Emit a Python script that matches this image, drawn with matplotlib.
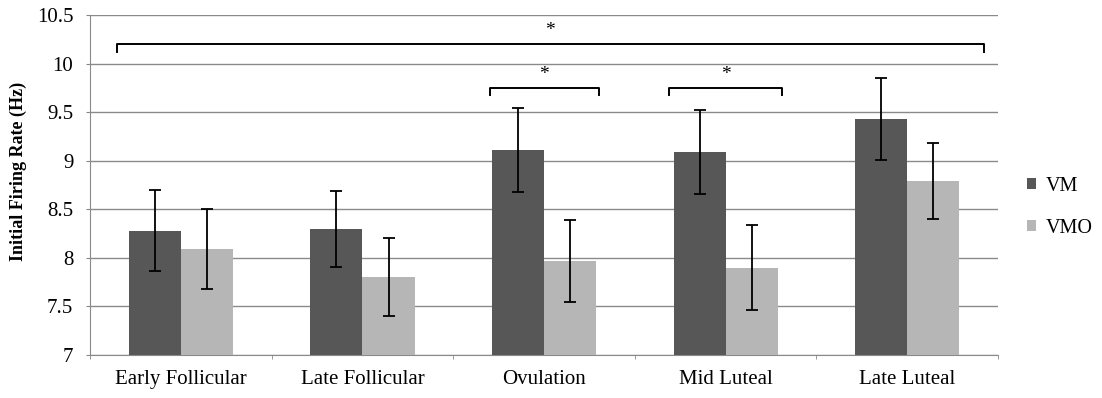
import matplotlib
matplotlib.use("Agg")
import matplotlib.pyplot as plt
import numpy as np

phases = ["Early Follicular", "Late Follicular", "Ovulation", "Mid Luteal", "Late Luteal"]
vm_mean = [8.28, 8.30, 9.11, 9.09, 9.43]
vm_err = [0.42, 0.39, 0.43, 0.43, 0.42]
vmo_mean = [8.09, 7.80, 7.97, 7.90, 8.79]
vmo_err = [0.41, 0.40, 0.42, 0.44, 0.39]
y_ticks = [7, 7.5, 8, 8.5, 9, 9.5, 10, 10.5]
y_tick_labels = ["7", "7.5", "8", "8.5", "9", "9.5", "10", "10.5"]

plt.rcParams["font.family"] = "serif"
plt.rcParams["font.serif"] = ["Liberation Serif", "DejaVu Serif"]

fig = plt.figure(figsize=(11.02, 3.98), dpi=100)
ax = fig.add_axes([0.0817, 0.108, 0.824, 0.854])

x = np.arange(len(phases))
w = 0.287
err_kw = dict(ecolor="black", elinewidth=1.3, capsize=4, capthick=1.3)
ax.bar(x - w / 2, np.array(vm_mean) - 7, w, bottom=7, color="#575757",
       yerr=vm_err, error_kw=err_kw, label="VM", zorder=3)
ax.bar(x + w / 2, np.array(vmo_mean) - 7, w, bottom=7, color="#b6b6b6",
       yerr=vmo_err, error_kw=err_kw, label="VMO", zorder=3)

ax.set_xlim(-0.5, 4.5)
ax.set_ylim(7, 10.5)
ax.set_yticks(y_ticks)
ax.set_yticklabels(y_tick_labels, fontsize=15)
ax.set_xticks(x)
ax.set_xticklabels(phases, fontsize=15)
ax.set_xticks(np.arange(-0.5, 5, 1), minor=True)
ax.tick_params(axis="x", which="major", length=0, pad=11)
ax.tick_params(axis="x", which="minor", length=3, color="#888888")
ax.tick_params(axis="y", length=3, color="#888888", pad=9)
ax.yaxis.grid(True, color="#8a8a8a", linewidth=1.0, zorder=0)
ax.set_axisbelow(True)
for s in ["top", "right"]:
    ax.spines[s].set_visible(False)
for s in ["left", "bottom"]:
    ax.spines[s].set_color("#8a8a8a")
ax.set_ylabel("Initial Firing Rate (Hz)", fontsize=13, fontweight="bold")
ax.yaxis.set_label_coords(-0.069, 0.541)

# significance brackets
def bracket(x0, x1, y, drop, star_y):
    ax.plot([x0, x0, x1, x1], [y - drop, y, y, y - drop], color="black",
            linewidth=1.4, zorder=4, clip_on=False)
    ax.text((x0 + x1) / 2, star_y, "*", ha="center", va="center", fontsize=14, zorder=4)

bracket(-0.35, 4.42, 10.20, 0.08, 10.34)
bracket(1.70, 2.30, 9.75, 0.07, 9.89)
bracket(2.69, 3.31, 9.75, 0.07, 9.89)

ax.legend(loc="center left", bbox_to_anchor=(1.012, 0.435), frameon=False, fontsize=14.5,
          handlelength=0.45, handleheight=0.45, handletextpad=0.5, labelspacing=1.15)

fig.savefig("out.png", dpi=100)
